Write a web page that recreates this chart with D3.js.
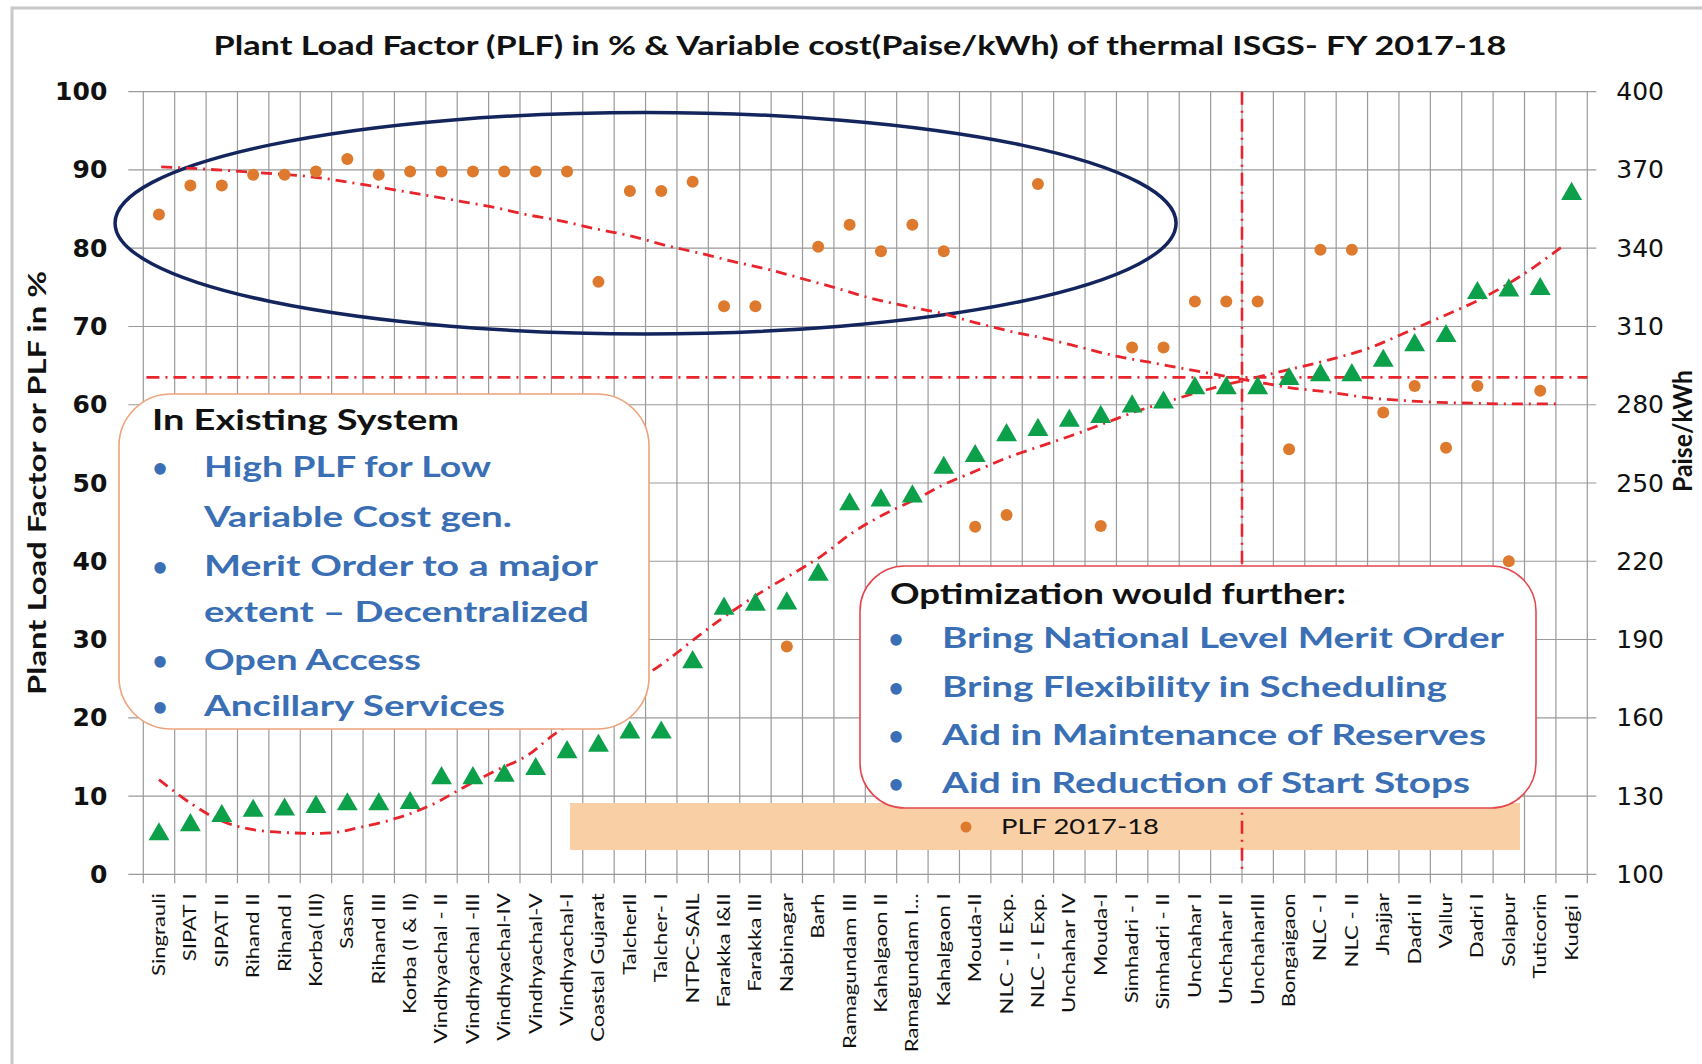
<!DOCTYPE html>
<html><head><meta charset="utf-8">
<script src="https://cdn.jsdelivr.net/npm/d3@7"></script>
<style>
body{margin:0;background:#fff;}
svg{display:block;}
</style>
</head><body>
<svg id="chart" width="1702" height="1064"></svg>
<script>
// ---------------- DATA ----------------
const categories = ["Singrauli","SIPAT I","SIPAT II","Rihand II","Rihand I","Korba( III)","Sasan","Rihand III","Korba (I & II)",
 "Vindhyachal - II","Vindhyachal -III","Vindhyachal-IV","Vindhyachal-V","Vindhyachal-I","Coastal Gujarat","TalcherII","Talcher- I",
 "NTPC-SAIL","Farakka I&II","Farakka III","Nabinagar","Barh","Ramagundam III","Kahalgaon II","Ramagundam I...","Kahalgaon I",
 "Mouda-II","NLC - II Exp.","NLC - I Exp.","Unchahar IV","Mouda-I","Simhadri - I","Simhadri - II","Unchahar I","Unchahar II",
 "UnchaharIII","Bongaigaon","NLC - I","NLC - II","Jhajjar","Dadri II","Vallur","Dadri I","Solapur","Tuticorin","Kudgi I"];

// PLF 2017-18 (%), left axis; null = not visible
const plf = [84.3,88,88,89.4,89.4,89.8,91.4,89.4,89.8,89.8,89.8,89.8,89.8,89.8,75.7,87.3,87.3,88.5,72.6,72.6,
 29.1,80.2,83,79.6,83,79.6,44.4,45.9,88.2,null,44.5,67.3,67.3,73.2,73.2,73.2,54.3,79.8,79.8,59,62.4,54.5,62.4,40,61.8,null];

// Variable cost (Paise/kWh), right axis
const varCost = [116.5,120,123.5,125.5,126,127,128,128,128.5,138,138,139,141.5,148,150.5,155.5,155.5,182.5,203,204.5,
 205,216,243,244.5,246,257,261.5,269.5,271.5,275,276.5,280.5,282,287.5,287.5,287.5,291,292.5,292.5,298,304,307.5,324,325,325.5,362];

// Trend line of PLF (category position, %)
const plfTrendX = [1.07,2.5,4,5.9,8,9.3,10.6,11.7,12.7,13.8,15,16,17.1,18.2,19.4,20.5,21.5,22.5,23.6,24.8,25.8,27,28.1,29.3,30.4,31.5,32.6,33.8,34.9,36,37,38.3,39.5,40.8,41.8,42.8,44,45.6];
const plfTrendY = [90.4,90.1,89.7,89.1,87.8,86.9,86,85.2,84.3,83.5,82.4,81.6,80.4,79.4,78.2,77.2,76.1,75,73.7,72.6,71.8,70.5,69.4,68.4,67.3,66.2,65.4,64.5,63.7,62.9,62.2,61.6,60.9,60.5,60.3,60.2,60.1,60.1];

// Trend line of variable cost (category position, Paise/kWh)
const costTrendX = [1,2,3,4,5.2,6.5,7.4,8.6,9.7,10.7,11.7,12.7,13.6,17,18.2,19.1,20.3,21.3,22.1,23.1,24.1,25.2,26,27,28,29,30.1,31.1,32.1,33.2,34.6,35.8,37,38.2,39.5,40.7,41.9,43.1,44.4,45.8];
const costTrendY = [136.3,127.3,120.4,117.1,115.9,115.9,118,121.6,126.7,133.3,139.6,145.3,153.7,180.4,191.5,199.5,209,216,222,231,238,244.3,249.4,254.5,259.6,263.8,268.3,272.8,277.3,281.5,286.5,290,293.5,297,301.5,307.6,313.9,320.5,329.5,341.5];

const avgPLF = 63.5;          // horizontal reference line (%)
const dividerPos = 35.5;      // vertical divider (category position)

const leftTicks = [0,10,20,30,40,50,60,70,80,90,100];
const rightTicks = [100,130,160,190,220,250,280,310,340,370,400];

const titleText = "Plant Load Factor (PLF) in % & Variable cost(Paise/kWh) of thermal ISGS- FY 2017-18";
const leftTitle = "Plant Load Factor or PLF in %";
const rightTitle = "Paise/kWh";
const legendLabel = "PLF 2017-18";
const box1Title = "In Existing System";
const box1Lines = [["•","High PLF for Low"],["","Variable Cost gen."],["•","Merit Order to a major"],["","extent – Decentralized"],["•","Open Access"],["•","Ancillary Services"]];
const box2Title = "Optimization would further:";
const box2Lines = ["Bring National Level Merit Order","Bring Flexibility in Scheduling","Aid in Maintenance of Reserves","Aid in Reduction of Start Stops"];

// ---------------- LAYOUT ----------------
const W = 1702, H = 1064;
const L = 143.3, R = 1587.3, T = 91.7, B = 874.3;
const svg = d3.select("#chart");
const FONT = "Lato, 'Open Sans', sans-serif";

const xBand = d3.scaleBand().domain(categories).range([L, R]).padding(0);
const xPos = d3.scaleLinear().domain([0.5, categories.length + 0.5]).range([L, R]);
const yL = d3.scaleLinear().domain([0, 100]).range([B, T]);
const yR = d3.scaleLinear().domain([100, 400]).range([B, T]);

// outer frame
svg.append("rect").attr("x", 12).attr("y", 8).attr("width", W).attr("height", H)
  .attr("fill", "none").attr("stroke", "#c8c8c8").attr("stroke-width", 3);

// title
svg.append("text").attr("x", 860).attr("y", 55).attr("text-anchor", "middle")
  .attr("font-family", FONT).attr("font-weight", 700).attr("font-size", 26)
  .attr("textLength", 1293).attr("lengthAdjust", "spacingAndGlyphs").attr("fill", "#111")
  .text(titleText);

const grid = svg.append("g").attr("stroke", "#9a9a9a").attr("stroke-width", 1.2);
// horizontal gridlines (with outward ticks both sides)
grid.selectAll("line.h").data(leftTicks).join("line")
  .attr("x1", L - 15).attr("x2", R + 9).attr("y1", d => yL(d)).attr("y2", d => yL(d));
// vertical gridlines at category boundaries, extending below axis as ticks
grid.selectAll("line.v").data(d3.range(0, categories.length + 1)).join("line")
  .attr("x1", d => xPos(d + 0.5)).attr("x2", d => xPos(d + 0.5))
  .attr("y1", T).attr("y2", B + 9);

// left axis labels
const axL = svg.append("g").attr("transform", `translate(${L - 36},0)`)
  .call(d3.axisLeft(yL).tickValues(leftTicks).tickSize(0).tickPadding(0));
axL.select(".domain").remove();
axL.selectAll("text").attr("font-family", "'DejaVu Sans', sans-serif").attr("font-weight", 700)
  .attr("font-size", 25).attr("fill", "#111");

// right axis labels
const axR = svg.append("g").attr("transform", `translate(${R + 29},0)`)
  .call(d3.axisRight(yR).tickValues(rightTicks).tickSize(0).tickPadding(0));
axR.select(".domain").remove();
axR.selectAll("text").attr("font-family", "'DejaVu Sans', sans-serif")
  .attr("font-size", 25).attr("fill", "#111");

// category labels
const axB = svg.append("g").attr("transform", `translate(0,${B})`)
  .call(d3.axisBottom(xBand).tickSize(0).tickPadding(0));
axB.select(".domain").remove();
axB.selectAll("text")
  .attr("font-family", FONT).attr("font-size", 17).attr("fill", "#111")
  .attr("text-anchor", "end").attr("dy", "0.35em").attr("y", 0)
  .attr("transform", "rotate(-90) translate(-19,0) scale(1.3,1)");

// axis titles
svg.append("text").attr("transform", `translate(46,483) rotate(-90)`).attr("text-anchor", "middle")
  .attr("font-family", FONT).attr("font-weight", 700).attr("font-size", 25)
  .attr("textLength", 424).attr("lengthAdjust", "spacingAndGlyphs").attr("fill", "#111").text(leftTitle);
svg.append("text").attr("transform", `translate(1692,431) rotate(-90)`).attr("text-anchor", "middle")
  .attr("font-family", FONT).attr("font-weight", 700).attr("font-size", 26)
  .attr("textLength", 122).attr("lengthAdjust", "spacingAndGlyphs").attr("fill", "#111").text(rightTitle);

// ellipse annotation (in data coordinates)
const ell = {cx: 16.5, cy: 83.2, rx: 16.9, ry: 14.15};
svg.append("ellipse").attr("cx", xPos(ell.cx)).attr("cy", yL(ell.cy))
  .attr("rx", xPos(ell.rx) - xPos(0)).attr("ry", yL(0) - yL(ell.ry))
  .attr("fill", "none").attr("stroke", "#14255e").attr("stroke-width", 3.5);

// legend band
svg.append("rect").attr("x", 570).attr("y", 803).attr("width", 950).attr("height", 47).attr("fill", "#f9cfa6");
svg.append("circle").attr("cx", 966).attr("cy", 827).attr("r", 5.5).attr("fill", "#dd7a2e");
svg.append("text").attr("x", 1001).attr("y", 834).attr("font-family", FONT).attr("font-size", 22)
  .attr("textLength", 158).attr("lengthAdjust", "spacingAndGlyphs").attr("fill", "#111").text(legendLabel);

// reference lines
const red = "#e8242c";
const line = d3.line().curve(d3.curveMonotoneX);
svg.append("path").attr("d", line(plfTrendX.map((x, i) => [xPos(x), yL(plfTrendY[i])])))
  .attr("fill", "none").attr("stroke", red).attr("stroke-width", 2.8).attr("stroke-dasharray", "11,6,2,6");
svg.append("path").attr("d", d3.line().curve(d3.curveCatmullRom)(costTrendX.map((x, i) => [xPos(x), yR(costTrendY[i])])))
  .attr("fill", "none").attr("stroke", red).attr("stroke-width", 2.8).attr("stroke-dasharray", "11,6,2,6");
svg.append("line").attr("x1", xPos(0.6)).attr("x2", R).attr("y1", yL(avgPLF)).attr("y2", yL(avgPLF))
  .attr("stroke", red).attr("stroke-width", 2.6).attr("stroke-dasharray", "13,6,2,6");
svg.append("line").attr("x1", xPos(dividerPos)).attr("x2", xPos(dividerPos)).attr("y1", T).attr("y2", B)
  .attr("stroke", red).attr("stroke-width", 2.6).attr("stroke-dasharray", "13,6,2,6");

// markers
const triSize = 190;
const triOff = Math.sqrt(triSize / (Math.sqrt(3) * 3)) / 2;
svg.append("g").selectAll("path").data(varCost).join("path")
  .attr("d", d3.symbol(d3.symbolTriangle, triSize))
  .attr("transform", (d, i) => `translate(${xBand(categories[i]) + xBand.bandwidth() / 2},${yR(d) + triOff})`)
  .attr("fill", "#0da04a");
svg.append("g").selectAll("circle").data(plf.map((v, i) => [i, v]).filter(d => d[1] != null)).join("circle")
  .attr("cx", d => xBand(categories[d[0]]) + xBand.bandwidth() / 2).attr("cy", d => yL(d[1]))
  .attr("r", 6).attr("fill", "#dd7a2e");

// text box 1
const b1 = svg.append("g");
b1.append("rect").attr("x", 119).attr("y", 394).attr("width", 530).attr("height", 335).attr("rx", 52)
  .attr("fill", "#fff").attr("stroke", "#eea37a").attr("stroke-width", 1.6);
b1.append("text").attr("x", 152).attr("y", 430).attr("font-family", FONT).attr("font-weight", 700)
  .attr("font-size", 29).attr("textLength", 307).attr("lengthAdjust", "spacingAndGlyphs").attr("fill", "#111").text(box1Title);
const b1Y = [467, 517, 565.5, 612, 660, 705.6];
const b1W = [287, 308, 394, 385, 217, 301];
box1Lines.forEach((ln, i) => {
  if (ln[0]) b1.append("text").attr("x", 160).attr("y", b1Y[i] + 10).attr("text-anchor", "middle")
    .attr("font-family", FONT).attr("font-weight", 700).attr("font-size", 26).attr("fill", "#3a6fb5").text(ln[0]);
  b1.append("text").attr("x", 204).attr("y", b1Y[i] + 10).attr("font-family", FONT).attr("font-weight", 700)
    .attr("font-size", 29).attr("textLength", b1W[i]).attr("lengthAdjust", "spacingAndGlyphs")
    .attr("fill", "#3a6fb5").text(ln[1]);
});

// text box 2
const b2 = svg.append("g");
b2.append("rect").attr("x", 860).attr("y", 566).attr("width", 676).attr("height", 242).attr("rx", 45)
  .attr("fill", "#fff").attr("stroke", "#e5474f").attr("stroke-width", 1.6);
b2.append("text").attr("x", 890).attr("y", 604).attr("font-family", FONT).attr("font-weight", 700)
  .attr("font-size", 29).attr("textLength", 456).attr("lengthAdjust", "spacingAndGlyphs").attr("fill", "#111").text(box2Title);
const b2Y = [638, 687, 735, 783];
const b2W = [562, 505, 544, 528];
box2Lines.forEach((t, i) => {
  b2.append("text").attr("x", 896).attr("y", b2Y[i] + 10).attr("text-anchor", "middle")
    .attr("font-family", FONT).attr("font-weight", 700).attr("font-size", 26).attr("fill", "#3a6fb5").text("•");
  b2.append("text").attr("x", 942).attr("y", b2Y[i] + 10).attr("font-family", FONT).attr("font-weight", 700)
    .attr("font-size", 29).attr("textLength", b2W[i]).attr("lengthAdjust", "spacingAndGlyphs")
    .attr("fill", "#3a6fb5").text(t);
});
</script>
</body></html>
